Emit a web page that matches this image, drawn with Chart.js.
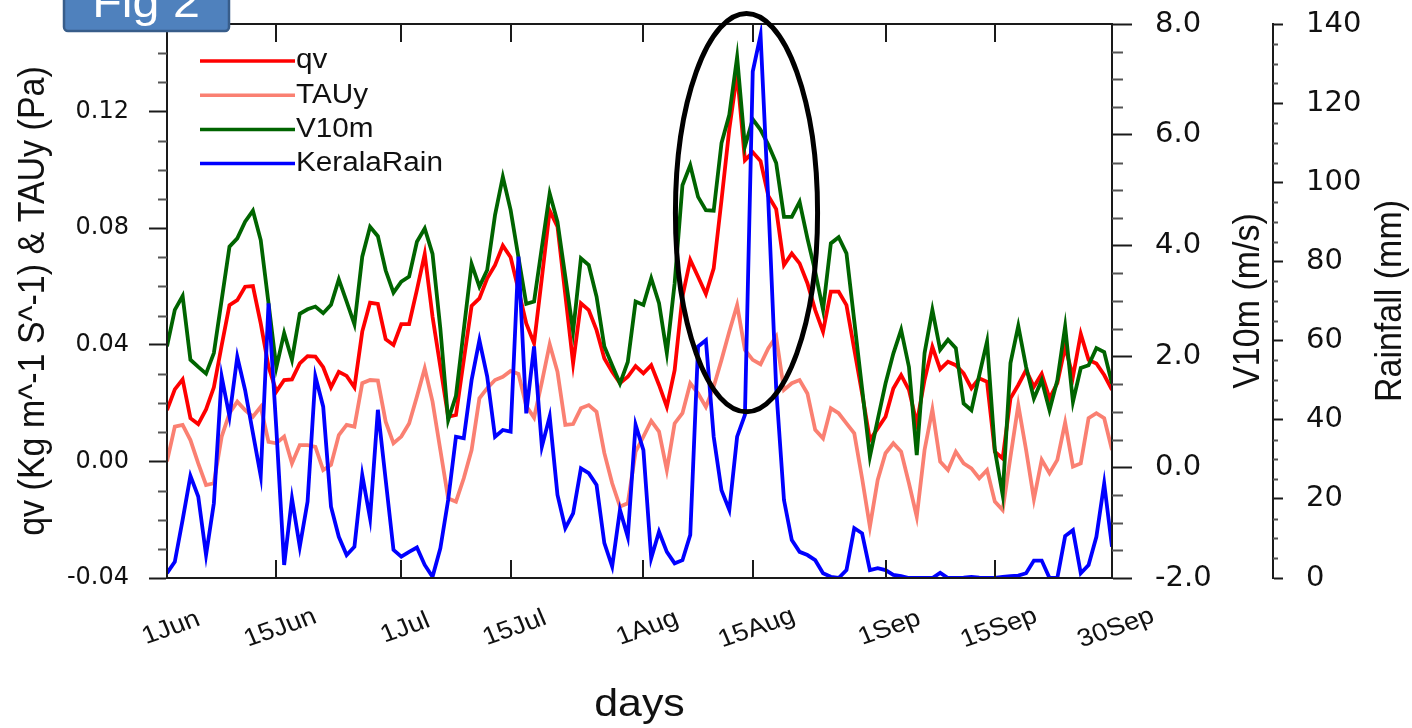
<!DOCTYPE html>
<html>
<head>
<meta charset="utf-8">
<script src="https://cdn.jsdelivr.net/npm/chart.js@4.4.1/dist/chart.umd.min.js"></script>
<style>
  html, body { margin: 0; padding: 0; background: #fff; }
  canvas { display: block; }
</style>
</head>
<body>
<canvas id="chart" width="1412" height="728"></canvas>
<script>
// day index from 1 Jun (0) to 30 Sep (121)
const days = Array.from({ length: 122 }, (_, i) => i);
const tickDays = [0, 14, 30, 44, 61, 75, 92, 106, 121];
const tickNames = ['1Jun', '15Jun', '1Jul', '15Jul', '1Aug', '15Aug', '1Sep', '15Sep', '30Sep'];

// qv (Kg m^-1 S^-1)
const qv = [
  0.0176, 0.0247, 0.0281, 0.0148, 0.0128, 0.0178, 0.0254, 0.0398, 0.0536, 0.0553,
  0.0599, 0.0601, 0.0473, 0.0325, 0.0239, 0.0279, 0.0281, 0.0336, 0.0361, 0.0359,
  0.0323, 0.0254, 0.0307, 0.0293, 0.0254, 0.0445, 0.0544, 0.0540, 0.0419, 0.0399,
  0.0471, 0.0471, 0.0588, 0.0711, 0.0496, 0.0325, 0.0153, 0.0159, 0.0348, 0.0533,
  0.0559, 0.0628, 0.0673, 0.0740, 0.0700, 0.0588, 0.0473, 0.0405, 0.0630, 0.0860,
  0.0805, 0.0571, 0.0336, 0.0542, 0.0519, 0.0450, 0.0353, 0.0307, 0.0268, 0.0290,
  0.0327, 0.0302, 0.0330, 0.0262, 0.0187, 0.0313, 0.0565, 0.0691, 0.0633, 0.0574,
  0.0662, 0.0896, 0.1140, 0.1330, 0.1033, 0.1060, 0.1030, 0.0910, 0.0865, 0.0673,
  0.0713, 0.0679, 0.0611, 0.0519, 0.0445, 0.0582, 0.0582, 0.0536, 0.0384, 0.0233,
  0.0073, 0.0113, 0.0153, 0.0250, 0.0296, 0.0245, 0.0130, 0.0279, 0.0393, 0.0316,
  0.0342, 0.0330, 0.0302, 0.0251, 0.0285, 0.0273, 0.0033, 0.0010, 0.0216, 0.0262,
  0.0313, 0.0256, 0.0300, 0.0216, 0.0268, 0.0393, 0.0290, 0.0437, 0.0348, 0.0336,
  0.0296, 0.0245
];

// meridional wind stress TAUy (Pa)
const tauy = [
  0.0000, 0.0119, 0.0125, 0.0073, -0.0007, -0.0081, -0.0075, 0.0085, 0.0165, 0.0205,
  0.0176, 0.0153, 0.0187, 0.0067, 0.0062, 0.0085, -0.0007, 0.0056, 0.0056, 0.0050,
  -0.0030, -0.0012, 0.0090, 0.0125, 0.0119, 0.0268, 0.0279, 0.0277, 0.0136, 0.0062,
  0.0085, 0.0130, 0.0222, 0.0319, 0.0205, 0.0039, -0.0127, -0.0138, -0.0058, 0.0039,
  0.0216, 0.0251, 0.0279, 0.0290, 0.0310, 0.0300, 0.0190, 0.0150, 0.0272, 0.0402,
  0.0307, 0.0125, 0.0128, 0.0182, 0.0193, 0.0170, 0.0028, -0.0075, -0.0155, -0.0144,
  0.0033, 0.0085, 0.0139, 0.0102, -0.0030, 0.0130, 0.0165, 0.0268, 0.0233, 0.0187,
  0.0256, 0.0348, 0.0445, 0.0536, 0.0382, 0.0348, 0.0333, 0.0388, 0.0428, 0.0245,
  0.0268, 0.0279, 0.0233, 0.0108, 0.0079, 0.0182, 0.0165, 0.0130, 0.0096, -0.0058,
  -0.0224, -0.0064, 0.0028, 0.0062, 0.0033, -0.0075, -0.0190, 0.0039, 0.0178, -0.0001,
  -0.0030, 0.0033, -0.0007, -0.0024, -0.0058, -0.0030, -0.0138, -0.0167, 0.0016, 0.0193,
  0.0039, -0.0130, 0.0005, -0.0041, 0.0005, 0.0133, -0.0018, -0.0007, 0.0148, 0.0165,
  0.0148, 0.0039
];

// 10 m meridional wind (m/s)
const v10m = [
  2.18, 2.84, 3.09, 1.94, 1.81, 1.69, 2.06, 3.02, 3.98, 4.13,
  4.43, 4.63, 4.10, 2.96, 1.80, 2.42, 1.94, 2.77, 2.85, 2.90,
  2.78, 2.93, 3.39, 2.99, 2.58, 3.80, 4.34, 4.17, 3.55, 3.15,
  3.35, 3.44, 4.07, 4.31, 3.85, 2.50, 0.85, 1.29, 2.48, 3.67,
  3.26, 3.56, 4.55, 5.24, 4.64, 3.79, 2.95, 2.99, 3.97, 4.94,
  4.43, 3.44, 2.45, 3.77, 3.65, 3.08, 2.18, 1.84, 1.51, 1.90,
  2.99, 2.93, 3.41, 2.96, 2.06, 3.32, 5.09, 5.45, 4.88, 4.64,
  4.63, 5.85, 6.36, 7.40, 5.79, 6.28, 6.09, 5.82, 5.49, 4.52,
  4.52, 4.79, 4.13, 3.53, 2.84, 4.04, 4.15, 3.86, 2.64, 1.42,
  0.19, 0.86, 1.51, 2.05, 2.48, 1.81, 0.22, 2.06, 2.84, 2.12,
  2.30, 2.15, 1.15, 1.03, 1.66, 2.27, 0.31, -0.50, 1.88, 2.55,
  1.81, 1.24, 1.57, 1.03, 1.57, 2.54, 1.18, 1.79, 1.84, 2.15,
  2.08, 1.51
];

// Kerala daily rainfall (mm)
const keralaRain = [
  1.2, 4.1, 14.7, 25.8, 20.6, 5.8, 18.9, 50.9, 40.8, 55.9,
  47.5, 36.6, 25.8, 69.4, 37.7, 3.3, 20.1, 7.9, 19.3, 50.9,
  43.3, 18.0, 10.4, 5.8, 7.9, 26.0, 15.1, 42.5, 24.8, 7.1,
  5.4, 6.6, 7.7, 3.3, 0.3, 7.5, 19.7, 35.7, 35.3, 50.0,
  60.1, 50.9, 35.7, 37.4, 37.0, 81.2, 41.6, 58.5, 33.2, 40.8,
  21.0, 12.6, 16.3, 27.7, 26.5, 23.5, 8.8, 2.9, 17.2, 10.4,
  38.7, 32.3, 5.0, 11.7, 6.6, 3.7, 4.5, 10.9, 58.5, 60.1,
  35.7, 22.2, 17.2, 35.7, 41.2, 128.0, 137.2, 95.0, 48.0, 19.7,
  9.6, 6.6, 5.8, 4.5, 1.2, 0.3, 0.0, 2.0, 12.6, 11.3,
  2.0, 2.5, 2.0, 0.8, 0.5, 0.0, 0.0, 0.0, 0.0, 1.3,
  0.0, 0.0, 0.1, 0.3, 0.1, 0.0, 0.0, 0.3, 0.5, 0.6,
  1.2, 4.4, 4.4, 0.0, 0.0, 10.6, 12.1, 1.2, 3.3, 10.4,
  23.9, 7.9
];

const leftTicks = [-0.04, 0.00, 0.04, 0.08, 0.12];
const windTicks = [-2, 0, 2, 4, 6, 8];
const rainTicks = [0, 20, 40, 60, 80, 100, 120, 140];
const series = [
  { label: 'qv', data: qv, color: '#ff0000', axis: 'y', order: 4 },
  { label: 'TAUy', data: tauy, color: '#fa8072', axis: 'y', order: 3 },
  { label: 'V10m', data: v10m, color: '#006400', axis: 'y1', order: 2 },
  { label: 'KeralaRain', data: keralaRain, color: '#0000ff', axis: 'y2', order: 1 }
];

// highlighted monsoon burst, in data units (day, qv)
const burst = { day: 74.2, qv: 0.0853, halfDays: 9.1, halfQv: 0.0683 };

const SX = 1.1;            // NCL-ish wide lettering
const FONT = '"Liberation Sans", Arial, sans-serif';
const INK = '#111';

function txt(ctx, s, x, y, size, o = {}) {
  ctx.save();
  ctx.translate(x, y);
  ctx.scale(o.sx || SX, 1);
  ctx.rotate(o.rot || 0);
  ctx.font = `${size}px ${FONT}`;
  ctx.fillStyle = o.color || INK;
  ctx.textAlign = o.align || 'center';
  ctx.textBaseline = o.base || 'middle';
  ctx.fillText(s, 0, 0);
  ctx.restore();
}

function minorTicks(ctx, scale, from, to, step, majorStep, x0, len) {
  ctx.beginPath();
  for (let v = from; v <= to + 1e-9; v += step) {
    const r = (v - from) / majorStep;
    if (Math.abs(r - Math.round(r)) < 1e-6) continue;
    const py = Math.round(scale.getPixelForValue(v)) + 0.5;
    ctx.moveTo(x0, py);
    ctx.lineTo(x0 + len, py);
  }
  ctx.stroke();
}

const decor = {
  id: 'decor',
  afterDraw(chart) {
    const { ctx, chartArea: a, scales } = chart;
    const { x, y, y1, y2 } = scales;
    ctx.save();
    ctx.strokeStyle = '#1a1a1a';
    ctx.lineWidth = 2;
    ctx.strokeRect(a.left, a.top, a.right - a.left, a.bottom - a.top);

    // date ticks point inward, top and bottom
    ctx.beginPath();
    tickDays.forEach(d => {
      const px = Math.round(x.getPixelForValue(d));
      ctx.moveTo(px, a.bottom); ctx.lineTo(px, a.bottom - 18);
      ctx.moveTo(px, a.top); ctx.lineTo(px, a.top + 18);
    });
    ctx.stroke();

    // minor ticks
    ctx.strokeStyle = '#555';
    minorTicks(ctx, y, -0.04, 0.15, 0.01, 0.04, a.left, -9);
    minorTicks(ctx, y1, -2, 8, 0.5, 2, a.right, 11);
    minorTicks(ctx, y2, 0, 140, 5, 20, y2.left, 5);

    // rotated date labels
    tickDays.forEach((d, i) => {
      txt(ctx, tickNames[i], x.getPixelForValue(d) + 4, 628, 25, { rot: -21 * Math.PI / 180 });
    });

    // ellipse round the August burst
    const cx = x.getPixelForValue(burst.day);
    const cy = y.getPixelForValue(burst.qv);
    const rx = x.getPixelForValue(burst.day + burst.halfDays) - cx;
    const ry = cy - y.getPixelForValue(burst.qv + burst.halfQv);
    ctx.beginPath();
    ctx.ellipse(cx, cy, rx, ry, 0, 0, Math.PI * 2);
    ctx.strokeStyle = '#000';
    ctx.lineWidth = 5;
    ctx.stroke();

    // legend
    series.forEach((s, i) => {
      const ly = 61 + i * 34.2;
      ctx.beginPath();
      ctx.moveTo(200, ly); ctx.lineTo(295, ly);
      ctx.strokeStyle = s.color;
      ctx.lineWidth = 3.5;
      ctx.stroke();
      txt(ctx, s.label, 296, ly, 27, { align: 'left' });
    });

    // axis titles
    const midY = (a.top + a.bottom) / 2;
    txt(ctx, 'qv (Kg m^-1 S^-1) & TAUy (Pa)', 34, midY, 34, { rot: -Math.PI / 2 });
    txt(ctx, 'V10m (m/s)', 1249, midY, 34, { rot: -Math.PI / 2 });
    txt(ctx, 'Rainfall (mm)', 1391, midY, 34, { rot: -Math.PI / 2 });
    txt(ctx, 'days', (a.left + a.right) / 2, 716, 39, { base: 'alphabetic' });

    // figure tag
    ctx.beginPath();
    ctx.roundRect(64, -12, 165, 43, 4);
    ctx.fillStyle = '#4f81bd';
    ctx.fill();
    ctx.strokeStyle = '#385d8a';
    ctx.lineWidth = 2.5;
    ctx.stroke();
    txt(ctx, 'Fig 2', 146, 17, 44, { color: '#fff', base: 'alphabetic' });
    ctx.restore();
  }
};

// pin an axis box to a fixed size and drop the label overhang padding
const pinWidth = w => s => { s.width = w; s.paddingTop = 0; s.paddingBottom = 0; };
const fixedTicks = list => s => { s.ticks = list.map(v => ({ value: v })); };

const axisLine = { display: true, color: '#1a1a1a', width: 2 };
const tickMarks = len => ({ display: true, drawOnChartArea: false, drawTicks: true, tickLength: len, tickWidth: 2, tickColor: '#1a1a1a' });

new Chart(document.getElementById('chart'), {
  type: 'line',
  data: {
    labels: days,
    datasets: series.map(s => ({
      label: s.label,
      data: s.data,
      yAxisID: s.axis,
      order: s.order,
      borderColor: s.color,
      backgroundColor: s.color,
      borderWidth: 3.8,
      pointRadius: 0,
      tension: 0,
      fill: false
    }))
  },
  options: {
    responsive: false,
    animation: false,
    devicePixelRatio: 1,
    events: [],
    layout: { padding: { top: 24, left: 0, right: 0, bottom: 0 } },
    plugins: { legend: { display: false }, tooltip: { enabled: false } },
    scales: {
      x: {
        type: 'linear',
        min: 0,
        max: 121,
        afterFit: s => { s.height = 150; s.paddingLeft = 0; s.paddingRight = 0; },
        grid: { display: false },
        border: { display: false },
        ticks: { display: false }
      },
      y: {
        position: 'left',
        min: -0.04,
        max: 0.15,
        afterFit: pinWidth(167),
        afterBuildTicks: fixedTicks(leftTicks),
        border: axisLine,
        grid: tickMarks(18),
        ticks: { color: INK, padding: 20, font: { family: 'DejaVu Sans', size: 24 }, callback: v => v.toFixed(2) }
      },
      y1: {
        position: 'right',
        weight: 0,
        min: -2,
        max: 8,
        afterFit: pinWidth(161),
        afterBuildTicks: fixedTicks(windTicks),
        border: axisLine,
        grid: tickMarks(20),
        ticks: { color: INK, padding: 23, font: { family: 'DejaVu Sans', size: 29 }, callback: v => v.toFixed(1) }
      },
      y2: {
        position: 'right',
        weight: 1,
        min: 0,
        max: 140,
        afterFit: pinWidth(139),
        afterBuildTicks: fixedTicks(rainTicks),
        border: axisLine,
        grid: tickMarks(10),
        ticks: { color: INK, padding: 23, font: { family: 'DejaVu Sans', size: 29 }, callback: v => String(v) }
      }
    }
  },
  plugins: [decor]
});
</script>
</body>
</html>
